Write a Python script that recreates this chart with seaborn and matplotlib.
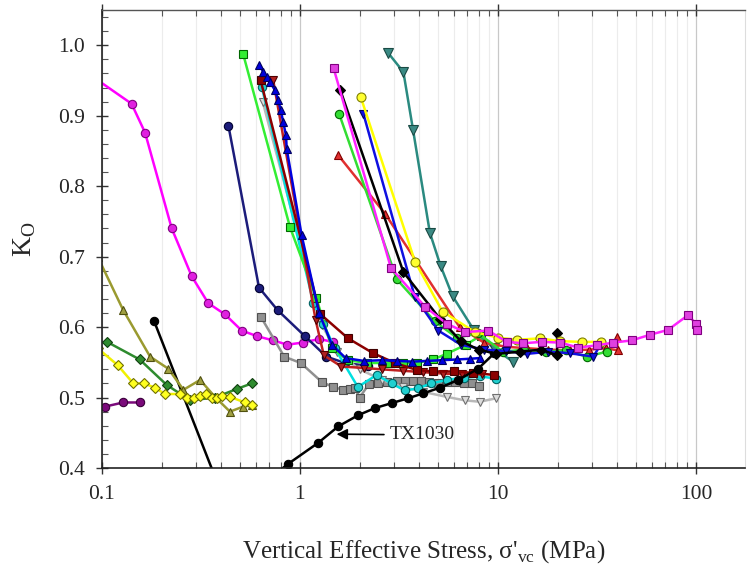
import numpy as np
import pandas as pd
import matplotlib
matplotlib.use("Agg")
import matplotlib.pyplot as plt
import seaborn as sns
from matplotlib.ticker import FixedLocator, NullFormatter, LogLocator

# ---------------- data ----------------
mag_c_x = [0.085, 0.141, 0.165, 0.225, 0.284, 0.344, 0.418, 0.508, 0.609, 0.733, 0.863, 1.03, 1.25, 1.47]
mag_c_y = [0.960, 0.917, 0.876, 0.740, 0.672, 0.634, 0.618, 0.595, 0.587, 0.581, 0.575, 0.578, 0.583, 0.579]

navy_c_x = [0.435, 0.621, 0.771, 1.06, 1.36, 1.69, 2.2]
navy_c_y = [0.886, 0.656, 0.624, 0.587, 0.558, 0.549, 0.545]

gray_s_x = [0.633, 0.833, 1.01, 1.29, 1.47, 1.65, 1.78, 1.9, 2.0, 2.23, 2.47, 2.75, 3.08, 3.4, 3.72,
            4.1, 4.5, 5.0, 5.5, 6.1, 6.7, 7.4, 8.05]
gray_s_y = [0.615, 0.558, 0.549, 0.522, 0.515, 0.511, 0.512, 0.513, 0.500, 0.519, 0.520, 0.522, 0.523,
            0.523, 0.523, 0.523, 0.522, 0.521, 0.522, 0.522, 0.521, 0.521, 0.516]

lgray_t_x = [0.648, 1.29, 1.53, 2.0, 2.6, 3.3, 4.2, 5.5, 6.8, 8.1, 9.8]
lgray_t_y = [0.920, 0.603, 0.565, 0.540, 0.525, 0.515, 0.508, 0.501, 0.496, 0.494, 0.499]

cyan_c_x = [0.641, 1.17, 1.31, 1.5, 1.96, 2.44, 2.9, 3.39, 3.94, 4.6, 5.5, 6.7, 8.1, 9.8]
cyan_c_y = [0.941, 0.634, 0.605, 0.570, 0.515, 0.532, 0.520, 0.510, 0.513, 0.520, 0.525, 0.528, 0.530, 0.527]

lime_s_x = [0.517, 0.89, 1.21, 1.45, 1.75, 2.17, 2.74, 3.3, 3.88, 4.71, 5.5, 6.9, 8.2]
lime_s_y = [0.987, 0.742, 0.641, 0.570, 0.553, 0.549, 0.549, 0.549, 0.549, 0.554, 0.562, 0.575, 0.588]

blue_tu_x = [0.623, 0.653, 0.679, 0.705, 0.748, 0.777, 0.799, 0.823, 0.850, 0.857, 1.02, 1.25, 1.45,
             1.7, 2.1, 2.6, 3.1, 3.7, 4.4, 5.2, 6.2, 7.2, 8.1]
blue_tu_y = [0.972, 0.962, 0.955, 0.948, 0.936, 0.922, 0.908, 0.891, 0.872, 0.853, 0.730, 0.620,
             0.575, 0.556, 0.552, 0.553, 0.552, 0.551, 0.552, 0.553, 0.554, 0.555, 0.556]

maroon_s_x = [0.633, 1.26, 1.75, 2.34, 3.02, 3.9, 4.7, 6.0, 7.5, 9.6]
maroon_s_y = [0.950, 0.619, 0.584, 0.563, 0.549, 0.539, 0.537, 0.537, 0.535, 0.532]

brick_t_x = [0.733, 1.2, 1.32, 1.62, 2.1, 2.6, 3.3, 4.2, 5.3, 6.6, 8.3]
brick_t_y = [0.950, 0.610, 0.560, 0.544, 0.542, 0.540, 0.538, 0.536, 0.534, 0.533, 0.533]

olive_t_x = [0.095, 0.128, 0.175, 0.216, 0.258, 0.313, 0.372, 0.443, 0.515, 0.57]
olive_t_y = [0.700, 0.624, 0.558, 0.541, 0.511, 0.525, 0.501, 0.480, 0.487, 0.489]

dkgreen_x = [0.106, 0.155, 0.212, 0.279, 0.372, 0.478, 0.57]
dkgreen_y = [0.579, 0.554, 0.518, 0.496, 0.500, 0.512, 0.520]

yellow_d_x = [0.095, 0.12, 0.144, 0.163, 0.185, 0.208, 0.248, 0.27, 0.29, 0.313, 0.337, 0.36,
              0.38, 0.402, 0.443, 0.527, 0.57]
yellow_d_y = [0.570, 0.546, 0.520, 0.520, 0.514, 0.505, 0.505, 0.500, 0.500, 0.502, 0.505, 0.500,
              0.500, 0.502, 0.501, 0.493, 0.490]

purple_x = [0.103, 0.128, 0.155]
purple_y = [0.487, 0.493, 0.493]

black_st_x = [0.183, 0.40]
black_st_y = [0.609, 0.365]

tx_x = [0.70, 0.873, 1.24, 1.56, 1.97, 2.39, 2.9, 3.52, 4.2, 5.1, 6.3, 7.95, 9.6]
tx_y = [0.385, 0.406, 0.436, 0.459, 0.475, 0.485, 0.492, 0.499, 0.506, 0.514, 0.525, 0.541, 0.563]

mag_s_x = [1.48, 2.88, 4.28, 5.5, 6.8, 8.93, 11.1, 13.4, 16.6, 20.6, 25.4, 31.6, 38.2, 47.3, 58.5,
           72.3, 91.3, 100.6, 101]
mag_s_y = [0.967, 0.684, 0.629, 0.605, 0.593, 0.595, 0.579, 0.577, 0.579, 0.578, 0.571, 0.574,
           0.578, 0.581, 0.589, 0.596, 0.617, 0.604, 0.596]

black_d_x = [1.6, 3.33, 5.09, 6.5, 8.0, 9.8, 12.9, 16.5, 19.9, 19.9]
black_d_y = [0.936, 0.678, 0.612, 0.580, 0.568, 0.562, 0.565, 0.568, 0.560, 0.591]

lime_c_x = [1.58, 3.08, 4.8, 6.2, 7.95, 10.6, 13.5, 17.5, 22.0, 28.1, 35.4]
lime_c_y = [0.902, 0.668, 0.608, 0.585, 0.591, 0.565, 0.568, 0.565, 0.567, 0.558, 0.565]

red_t_x = [1.56, 2.69, 6.4, 8.5, 11, 14, 18, 23, 29, 35, 40.2, 40.0]
red_t_y = [0.844, 0.761, 0.600, 0.578, 0.572, 0.570, 0.568, 0.567, 0.568, 0.570, 0.567, 0.586]

blue_td_x = [2.09, 3.8, 5.0, 6.5, 8.5, 11, 14, 18, 23, 30.3, 33]
blue_td_y = [0.903, 0.643, 0.595, 0.575, 0.568, 0.566, 0.562, 0.565, 0.563, 0.558, 0.575]

yellow_c_x = [2.03, 3.81, 5.25, 7.65, 10.0, 12.5, 16.3, 20.5, 26.5, 33.2]
yellow_c_y = [0.926, 0.693, 0.622, 0.593, 0.585, 0.582, 0.584, 0.580, 0.579, 0.579]

teal_t_x = [2.79, 3.33, 3.73, 4.53, 5.13, 5.9, 7.55, 9.5, 11.9]
teal_t_y = [0.989, 0.962, 0.879, 0.734, 0.687, 0.644, 0.596, 0.570, 0.551]

x_tick_vals = [0.1, 1, 10, 100]
x_tick_labels = ["0.1", "1", "10", "100"]
y_tick_vals = [0.4, 0.5, 0.6, 0.7, 0.8, 0.9, 1.0]
y_tick_labels = ["0.4", "0.5", "0.6", "0.7", "0.8", "0.9", "1.0"]

annot_label = "TX1030"
annot_tip = (1.53, 0.448)
annot_text = (2.85, 0.447)

# ---------------- figure ----------------
sns.set_style("ticks")
plt.rcParams["font.family"] = ["Liberation Serif", "DejaVu Serif"]
plt.rcParams["mathtext.fontset"] = "custom"
plt.rcParams["mathtext.rm"] = "Liberation Serif"

fig = plt.figure(figsize=(7.48, 5.65), dpi=100)
ax = fig.add_axes([102 / 748, (565 - 468) / 565, (745 - 102) / 748, (468 - 10) / 565])
ax.set_xscale("log")

series = [
    # x, y, line colour, marker, face, edge, ms
    (black_st_x, black_st_y, "#000000", "o", "#000000", "#000000", 6),
    (purple_x, purple_y, "#7a0a7a", "o", "#7a0a7a", "#3a003a", 6),
    (olive_t_x, olive_t_y, "#9a9a30", "^", "#a0a040", "#505010", 6),
    (dkgreen_x, dkgreen_y, "#2e8b2e", "D", "#2e8b2e", "#104010", 5.5),
    (yellow_d_x, yellow_d_y, "#f0f000", "D", "#ffff20", "#707000", 5.5),
    (mag_c_x, mag_c_y, "#ff00ff", "o", "#e020e0", "#800080", 6),
    (navy_c_x, navy_c_y, "#1c1c7a", "o", "#1c1c7a", "#000030", 6),
    (gray_s_x, gray_s_y, "#909090", "s", "#909090", "#505050", 6),
    (lgray_t_x, lgray_t_y, "#b8b8b8", "v", "#dcdcdc", "#707070", 6),
    (cyan_c_x, cyan_c_y, "#00e0e0", "o", "#20d0d0", "#006060", 6),
    (lime_s_x, lime_s_y, "#33ee33", "s", "#33ee33", "#006600", 6),
    (brick_t_x, brick_t_y, "#c02020", "v", "#b02020", "#500000", 6),
    (maroon_s_x, maroon_s_y, "#8b0000", "s", "#8b0000", "#400000", 6),
    (blue_tu_x, blue_tu_y, "#0000dd", "^", "#0000dd", "#000060", 6),
    (tx_x, tx_y, "#000000", "o", "#000000", "#000000", 6),
    (teal_t_x, teal_t_y, "#2a8a80", "v", "#3a8a84", "#1a4a44", 6.5),
    (red_t_x, red_t_y, "#e03030", "^", "#e03030", "#800000", 6),
    (lime_c_x, lime_c_y, "#33dd33", "o", "#33dd33", "#006600", 6),
    (blue_td_x, blue_td_y, "#1010e0", "v", "#1010e0", "#000060", 6),
    (black_d_x, black_d_y, "#000000", "D", "#000000", "#000000", 5.5),
    (yellow_c_x, yellow_c_y, "#ffff00", "o", "#ffff30", "#808000", 6.5),
    (mag_s_x, mag_s_y, "#ff22ff", "s", "#e040e0", "#800080", 6),
]

for xs, ys, lc, mk, fc, ec, ms in series:
    df = pd.DataFrame({"x": xs, "y": ys})
    sns.lineplot(data=df, x="x", y="y", sort=False, estimator=None, ax=ax,
                 color=lc, linewidth=1.8, marker=mk, markersize=ms,
                 markerfacecolor=fc, markeredgecolor=ec, markeredgewidth=0.8)

ax.annotate(annot_label, xy=annot_tip, xytext=annot_text,
            xycoords="data", textcoords="data", fontsize=14, va="center", ha="left",
            arrowprops=dict(arrowstyle="-|>", color="black", lw=1.2, mutation_scale=16,
                            shrinkA=2, shrinkB=0))

ax.set_xlim(0.1, 177)
ax.set_ylim(0.4, 1.05)

ax.xaxis.set_major_locator(FixedLocator(x_tick_vals))
ax.set_xticklabels(x_tick_labels)
ax.xaxis.set_minor_locator(LogLocator(base=10, subs=np.arange(2, 10), numticks=20))
ax.xaxis.set_minor_formatter(NullFormatter())
ax.set_yticks(y_tick_vals)
ax.set_yticklabels(y_tick_labels)
ax.yaxis.set_minor_locator(FixedLocator(np.arange(0.40, 1.051, 0.02)))

ax.grid(True, which="major", axis="x", color="#c8c8c8", lw=0.9)
ax.grid(True, which="minor", axis="x", color="#ececec", lw=0.8)
ax.set_axisbelow(True)

ax.tick_params(axis="both", which="major", direction="inout", length=9, width=1.0,
               labelsize=15.5, color="#333333", pad=8)
ax.tick_params(axis="both", which="minor", direction="in", length=4, width=0.8, color="#555555")
ax.tick_params(axis="x", which="both", top=True)

for side in ["left", "bottom"]:
    ax.spines[side].set_color("#222222")
    ax.spines[side].set_linewidth(1.2)
ax.spines["top"].set_color("#555555")
ax.spines["top"].set_linewidth(1.0)
ax.spines["right"].set_color("#dddddd")
ax.spines["right"].set_linewidth(0.8)

ax.set_xlabel(r"Vertical Effective Stress, σ'$_\mathregular{vc}$ (MPa)", fontsize=18, labelpad=24)
ax.set_ylabel(r"K$_\mathregular{O}$", fontsize=20, labelpad=14)

fig.savefig("out.png", dpi=100)
